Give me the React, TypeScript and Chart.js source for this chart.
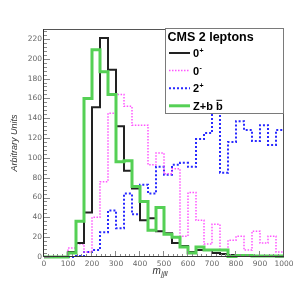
import React, { useEffect, useRef } from "react";
import { Chart, registerables } from "chart.js";

Chart.register(...registerables);

// ---- data ----
const X_MIN = 0;
const X_MAX = 1000;
const N_BINS = 30;
const binEdges: number[] = Array.from({ length: N_BINS + 1 }, (_, i) => X_MIN + (i * (X_MAX - X_MIN)) / N_BINS);

const zeroPlus = [0, 0, 0, 5, 14, 45, 151, 221, 189, 132, 87, 69, 37, 39, 26, 24, 14, 11, 5, 7, 7, 4, 3, 2, 2, 1, 1, 1, 1, 0.5];
const zeroMinus = [0, 0, 0, 9, 13, 5, 40, 76, 145, 164, 152, 133, 133, 93, 105, 84, 89, 21, 65, 37, 13, 33, 7, 17, 21, 7, 26, 14, 21, 5];
const twoPlus = [0, 0, 0, 0, 1, 5, 7, 25, 47, 29, 64, 43, 73, 64, 91, 83, 93, 95, 91, 119, 125, 165, 85, 116, 137, 128, 117, 133, 113, 128];
const zbb = [0, 0, 0, 4, 36, 160, 209, 187, 164, 96, 97, 71, 56, 27, 50, 23, 20, 10, 4, 10, 7, 7, 7, 0.5, 1.5, 1.5, 1, 1, 1, 1];

const xTickStep = 100;
const xMinorStep = 20;
const yMax = 230;
const yTickStep = 20;
const yMinorStep = 4;

const legendTitle = "CMS 2 leptons";
const legendMain = ["0", "0", "2", "Z+b b"];
const legendSup = ["+", "-", "+", ""];
const yTitle = "Arbitrary Units";
const xTitleMain = "m";
const xTitleSub = "jjll";

const COLORS = {
  zeroPlus: "#222222",
  zeroMinus: "#ff55ff",
  twoPlus: "#2a2aff",
  zbb: "#55d055",
};

const toSteps = (vals: number[]) =>
  binEdges.map((x, i) => ({ x, y: vals[Math.min(i, vals.length - 1)] }));

const SANS = "'Liberation Sans', Arial, Helvetica, sans-serif";

const decorPlugin = {
  id: "decor",
  afterDraw(chart: any) {
    const { ctx, chartArea: a, scales } = chart;
    const xs = scales.x;
    const ys = scales.y;
    ctx.save();
    // tick marks (inside)
    ctx.strokeStyle = "#8a8a8a";
    ctx.lineWidth = 1;
    ctx.beginPath();
    for (let v = 0; v <= yMax + 0.001; v += yMinorStep) {
      const y = Math.round(ys.getPixelForValue(v)) + 0.5;
      const len = v % yTickStep === 0 ? 6 : 3;
      ctx.moveTo(a.left, y);
      ctx.lineTo(a.left + len, y);
    }
    for (let v = X_MIN; v <= X_MAX + 0.001; v += xMinorStep) {
      const x = Math.round(xs.getPixelForValue(v)) - 0.5;
      const len = v % xTickStep === 0 ? 6 : 3;
      ctx.moveTo(x, a.bottom);
      ctx.lineTo(x, a.bottom - len);
    }
    ctx.stroke();

    // frame
    ctx.strokeStyle = "#555";
    ctx.beginPath();
    ctx.moveTo(a.left - 0.5, a.top + 0.5);
    ctx.lineTo(a.right - 0.5, a.top + 0.5);
    ctx.lineTo(a.right - 0.5, a.bottom);
    ctx.stroke();
    ctx.strokeStyle = "#333";
    ctx.beginPath();
    ctx.moveTo(a.left - 0.5, a.top);
    ctx.lineTo(a.left - 0.5, a.bottom - 0.5);
    ctx.lineTo(a.right, a.bottom - 0.5);
    ctx.stroke();

    // axis titles
    ctx.fillStyle = "#333";
    ctx.font = `italic 9px ${SANS}`;
    ctx.save();
    ctx.translate(17, (a.top + a.bottom) / 2);
    ctx.rotate(-Math.PI / 2);
    ctx.textAlign = "center";
    ctx.textBaseline = "alphabetic";
    ctx.fillText(yTitle, 0, 0);
    ctx.restore();

    ctx.textAlign = "left";
    ctx.textBaseline = "alphabetic";
    ctx.font = `italic 10px ${SANS}`;
    const mX = 152.5;
    ctx.fillText(xTitleMain, mX, 273.5);
    const mW = ctx.measureText(xTitleMain).width;
    ctx.font = `italic 7px ${SANS}`;
    ctx.fillText(xTitleSub, mX + mW + 0.5, 275.5);

    // legend
    const lx = 165;
    const ly = a.top - 1;
    const lw = a.right - lx;
    const lh = 86;
    ctx.fillStyle = "#ffffff";
    ctx.fillRect(lx, ly, lw, lh);
    ctx.strokeStyle = "#7a7a7a";
    ctx.lineWidth = 1;
    ctx.strokeRect(lx + 0.5, ly + 0.5, lw - 1, lh - 1);

    ctx.fillStyle = "#000";
    ctx.font = `bold 12.5px ${SANS}`;
    ctx.fillText(legendTitle, lx + 2.5, ly + 13);

    const ds = chart.data.datasets;
    const order = [1, 2, 3, 0];
    for (let k = 0; k < 4; k++) {
      const d = ds[order[k]];
      const cy = ly + 25 + k * 17.6;
      ctx.save();
      ctx.strokeStyle = d.borderColor;
      ctx.lineWidth = d.borderWidth;
      ctx.setLineDash(d.borderDash || []);
      ctx.beginPath();
      ctx.moveTo(lx + 4, cy);
      ctx.lineTo(lx + 25, cy);
      ctx.stroke();
      ctx.restore();

      ctx.fillStyle = "#000";
      ctx.font = `bold 11px ${SANS}`;
      const tx = lx + 28;
      const base = cy + 4;
      ctx.fillText(legendMain[k], tx, base);
      const w = ctx.measureText(legendMain[k]).width;
      if (legendSup[k]) {
        ctx.font = `bold 7px ${SANS}`;
        ctx.fillText(legendSup[k], tx + w + 0.5, base - 4.5);
      } else {
        // bar over final b
        const bw = ctx.measureText("b").width;
        ctx.strokeStyle = "#000";
        ctx.lineWidth = 1;
        ctx.beginPath();
        ctx.moveTo(tx + w - bw + 0.5, base - 9.5);
        ctx.lineTo(tx + w - 0.5, base - 9.5);
        ctx.stroke();
      }
    }
    ctx.restore();
  },
};

export default function App() {
  const ref = useRef<HTMLCanvasElement | null>(null);
  useEffect(() => {
    if (!ref.current) return;
    const common = {
      pointRadius: 0,
      fill: false,
      stepped: "before" as const,
      clip: false as any,
      tension: 0,
    };
    const chart = new Chart(ref.current, {
      type: "line",
      data: {
        datasets: [
          { ...common, label: "Z+b b", data: toSteps(zbb), borderColor: COLORS.zbb, borderWidth: 3, order: 0 },
          { ...common, label: "0+", data: toSteps(zeroPlus), borderColor: COLORS.zeroPlus, borderWidth: 2, order: 1 },
          { ...common, label: "0-", data: toSteps(zeroMinus), borderColor: COLORS.zeroMinus, borderWidth: 1.5, borderDash: [1.5, 1.5], order: 2 },
          { ...common, label: "2+", data: toSteps(twoPlus), borderColor: COLORS.twoPlus, borderWidth: 2, borderDash: [2, 2], order: 3 },
        ],
      },
      options: {
        responsive: false,
        animation: false,
        devicePixelRatio: 1,
        layout: { padding: { top: 29, right: 16, left: 0, bottom: 0 } },
        plugins: { legend: { display: false }, tooltip: { enabled: false }, title: { display: false } },
        scales: {
          x: {
            type: "linear",
            min: X_MIN,
            max: X_MAX,
            grid: { display: false, drawTicks: false },
            border: { display: false },
            ticks: {
              stepSize: xTickStep,
              autoSkip: false,
              maxRotation: 0,
              padding: 3,
              color: "#666",
              font: { family: "'DejaVu Sans'", size: 7.5 },
              callback: (v: any) => String(v),
            },
            afterFit: (s: any) => {
              s.height = 28;
            },
          },
          y: {
            type: "linear",
            min: 0,
            max: yMax,
            grid: { display: false, drawTicks: false },
            border: { display: false },
            ticks: {
              stepSize: yTickStep,
              includeBounds: false,
              padding: 2,
              color: "#666",
              font: { family: "'DejaVu Sans'", size: 7.5 },
              callback: (v: any) => String(v),
            },
            afterFit: (s: any) => {
              s.width = 44;
            },
          },
        },
      },
      plugins: [decorPlugin],
    });
    return () => chart.destroy();
  }, []);
  return (
    <div style={{ position: "fixed", left: 0, top: 0, width: 300, height: 285, background: "#fff" }}>
      <canvas ref={ref} width={300} height={285} style={{ display: "block", width: 300, height: 285 }} />
    </div>
  );
}
